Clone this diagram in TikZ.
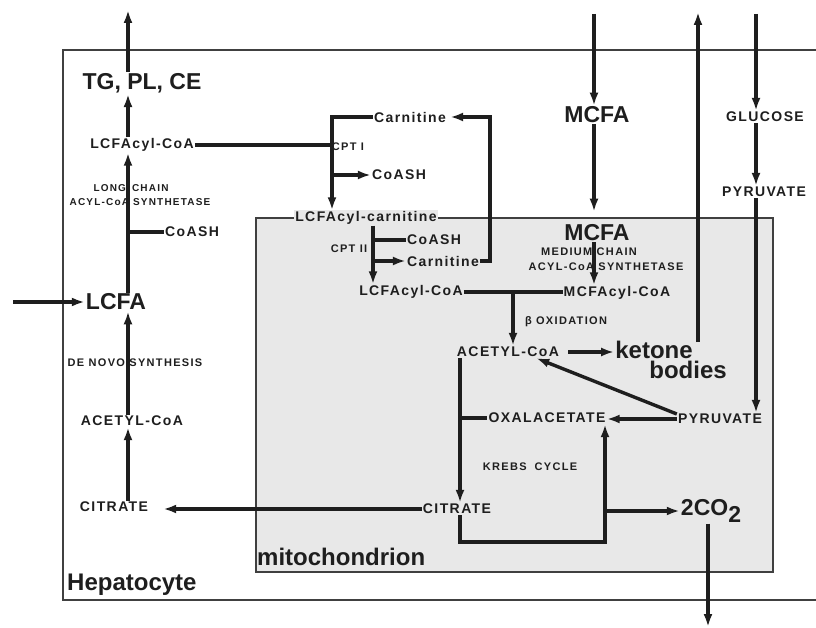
\documentclass[tikz,border=0pt]{standalone}
\usepackage{fontspec}
\setmainfont{Liberation Sans}
\newfontfamily\trk[LetterSpace=10]{Liberation Sans}
\newfontfamily\trks[LetterSpace=12]{Liberation Sans}
\usetikzlibrary{arrows.meta,calc}
\definecolor{ink}{HTML}{1E1E1E}
\definecolor{mitofill}{HTML}{E8E8E8}
\tikzset{
 lbl/.style={inner sep=1pt, text=ink},
 big/.style={lbl, font=\fontsize{23}{23}\selectfont\bfseries},
 bigl/.style={lbl, font=\fontsize{24}{24}\selectfont\bfseries},
 med/.style={lbl, font=\trk\fontsize{14}{14}\selectfont\bfseries},
 tiny/.style={lbl, font=\trks\fontsize{10}{10}\selectfont\bfseries},
 tinyc/.style={lbl, font=\trks\fontsize{11}{11}\selectfont\bfseries},
 tinyb/.style={lbl, font=\trks\fontsize{11}{11}\selectfont\bfseries},
 flow/.style={draw=ink, line width=3.4pt},
 arr/.style={flow, -{Latex[length=13pt,width=9pt]}},
 box/.style={draw=ink!85, line width=1.8pt},
}
\begin{document}
\begin{tikzpicture}[x=1pt,y=-1pt]
\useasboundingbox (0,0) rectangle (816,628);
% compartments
\draw[box] (816,50) -- (63,50) -- (63,600) -- (816,600);
\draw[box, fill=mitofill] (256,218) rectangle (773,572);
% cytosol nodes
\node[big] (tg) at (142,83) {TG, PL, CE};
\node[med] (lacoa) at (142,145) {LCFAcyl-CoA};
\node[tiny] (longc) at (131,188) {LONG\hspace{6pt}CHAIN};
\node[tiny] (acs1) at (140,202) {ACYL-CoA SYNTHETASE};
\node[med] (coash1) at (192,232) {CoASH};
\node[big] (lcfa) at (116,302) {LCFA};
\node[tinyb] (denovo) at (135,363) {DE NOVO SYNTHESIS};
\node[med] (acoa1) at (132,421) {ACETYL-CoA};
\node[med] (cit1) at (114,507) {CITRATE};
\node[med] (carn1) at (410,117) {Carnitine};
\node[tinyc] (cpt1) at (348,147) {CPT I};
\node[med] (coash2) at (399,175) {CoASH};
\node[med, fill=mitofill] (lcarn) at (366,218) {LCFAcyl-carnitine};
\node[big] (mcfa1) at (597,115) {MCFA};
\node[med] (glu) at (765,117) {GLUCOSE};
\node[med] (pyr1) at (764,192) {PYRUVATE};
% mitochondrial nodes
\node[tinyc] (cpt2) at (349,249) {CPT II};
\node[med] (coash3) at (434,240) {CoASH};
\node[med] (carn2) at (443,261) {Carnitine};
\node[med] (lacoa2) at (411,292) {LCFAcyl-CoA};
\node[big] (mcfa2) at (597,233) {MCFA};
\node[tinyb] (medc) at (589,252) {MEDIUM CHAIN};
\node[tinyb] (acs2) at (606,267) {ACYL-CoA SYNTHETASE};
\node[med] (mcacoa) at (617,293) {MCFAcyl-CoA};
\node[tinyb] (beta) at (566,322) {β OXIDATION};
\node[med] (acoa2) at (508,352) {ACETYL-CoA};
\node[bigl] (ket) at (654,350) {ketone};
\node[bigl] (bod) at (688,370) {bodies};
\node[med] (oxa) at (547,418) {OXALACETATE};
\node[med] (pyr2) at (720,419) {PYRUVATE};
\node[tinyb] (krebs) at (530,467) {KREBS\hspace{8pt}CYCLE};
\node[med] (cit2) at (457,509) {CITRATE};
\node[big] (co2) at (711,511) {2CO\raisebox{-7pt}{2}};
\node[bigl, anchor=west] (mito) at (256,557) {mitochondrion};
\node[bigl, anchor=west] (hep) at (66,585) {Hepatocyte};
% helper coordinates
\coordinate (lx) at (128,0);
\coordinate (tgout) at (128,10);
\coordinate (lcfain) at (13,302);
\coordinate (cx1) at (332,0);
\coordinate (cx2) at (373,0);
\coordinate (rx) at (490,0);
\coordinate (bx) at (513,0);
\coordinate (mx) at (594,0);
\coordinate (mcin) at (594,14);
\coordinate (kup) at (698,342);
\coordinate (kout) at (698,12);
\coordinate (gx) at (756,0);
\coordinate (glin) at (756,14);
\coordinate (cx) at (460,0);
\coordinate (ox) at (605,0);
\coordinate (loopb) at (0,542);
\coordinate (co2x) at (708,0);
\coordinate (co2out) at (708,627);
% connectors
\draw[arr] (tg.north -| lx) -- (tgout);
\draw[arr] (lacoa.north -| lx) -- (tg.south -| lx);
\draw[arr] (lcfa.north -| lx) -- (lacoa.south -| lx);
\draw[flow] (lx |- coash1.west) -- (coash1.west);
\draw[arr] (lcfain) -- (lcfa.west);
\draw[arr] (acoa1.north -| lx) -- (lcfa.south -| lx);
\draw[arr] (cit1.north -| lx) -- (acoa1.south -| lx);
\draw[arr] (cit2.west) -- ([xshift=14pt]cit2.west -| cit1.east);
\draw[flow] (lacoa.east) -- (lacoa.east -| cx1);
\draw[arr] (carn1.west) -| (lcarn.north -| cx1);
\draw[arr] (cx1 |- coash2.west) -- (coash2.west);
\draw[arr] (lcarn.south -| cx2) -- (lacoa2.north -| cx2);
\draw[flow] (cx2 |- coash3.west) -- (coash3.west);
\draw[arr] (cx2 |- carn2.west) -- (carn2.west);
\draw[arr] (carn2.east) -| (rx |- carn1.east) -- ([xshift=3pt]carn1.east);
\draw[flow] (lacoa2.east) -- (lacoa2.east -| mcacoa.west);
\draw[arr] (bx |- lacoa2.east) -- (acoa2.north -| bx);
\draw[arr] (mcin) -- (mcfa1.north -| mx);
\draw[arr] (mcfa1.south -| mx) -- ([yshift=12pt]mcfa2.north -| mx);
\draw[arr] (mcfa2.south -| mx) -- (mcacoa.north -| mx);
\draw[arr] ([xshift=8pt]acoa2.east) -- (acoa2.east -| ket.west);
\draw[arr] (kup) -- (kout);
\draw[arr] (glin) -- (glu.north -| gx);
\draw[arr] (glu.south -| gx) -- (pyr1.north -| gx);
\draw[arr] (pyr1.south -| gx) -- (pyr2.north -| gx);
\draw[arr] (pyr2.west) -- (pyr2.west -| oxa.east);
\draw[arr] ([yshift=5pt]pyr2.west) -- ([xshift=-24pt]acoa2.south east);
\draw[arr] (acoa2.south -| cx) -- (cit2.north -| cx);
\draw[flow] (cx |- oxa.west) -- (oxa.west);
\draw[arr] (cit2.south -| cx) -- (cx |- loopb) -- (ox |- loopb) -- (oxa.south -| ox);
\draw[arr] (ox |- co2.west) -- (co2.west);
\draw[arr] (co2.south -| co2x) -- (co2out);
\end{tikzpicture}
\end{document}
